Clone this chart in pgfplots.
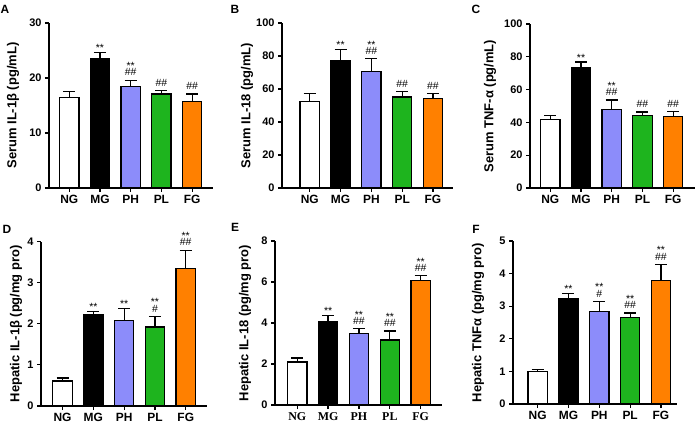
\documentclass[border=0pt]{standalone}
\usepackage{fontspec}
\setmainfont{Liberation Sans}
\newfontfamily\serifE{Liberation Serif}
\usepackage{pgfplots}
\pgfplotsset{compat=1.18}
\definecolor{cPH}{RGB}{140,140,250}
\definecolor{cPL}{RGB}{30,180,30}
\definecolor{cFG}{RGB}{255,128,0}
\pgfplotsset{
 panel/.style={
  scale only axis, anchor=south west, clip=false,
  axis x line*=bottom, axis y line*=left,
  axis line style={line width=1.2bp, -},
  ymin=0,
  xtick={0,...,4}, xticklabels={NG,MG,PH,PL,FG},
  tick align=outside, major tick length=4bp,
  tick style={line width=1.2bp, black},
  /pgf/number format/assume math mode=true,
  y tick label style={font=\fontsize{11}{12}\selectfont\bfseries},
  x tick label style={font=\fontsize{12}{14}\selectfont\bfseries},
  ylabel style={at={(axis description cs:0,0.5)}, anchor=center, font=\fontsize{13}{15}\selectfont\bfseries},
  error bars/y dir=plus, error bars/y explicit,
  error bars/error bar style={line width=1.2bp, black},
  error bars/error mark options={rotate=90, mark size=6bp, line width=1.2bp, black},
 },
 mybar/.style={ybar, bar shift=0pt, bar width=0.63, draw=black, line width=1.2bp},
}
\tikzset{ann/.style={anchor=base, inner sep=0pt, font=\fontsize{10.5}{12}\selectfont}}
\newcommand{\st}[2]{\node[ann, yshift=1bp] at (axis cs:#1,#2) {**};}
\newcommand{\hs}[3]{\node[ann, yshift=4.2bp] at (axis cs:#1,#2) {#3};}
\newcommand{\bt}[3]{\node[ann, yshift=4.2bp] at (axis cs:#1,#2) {#3};\node[ann, yshift=10.5bp] at (axis cs:#1,#2) {**};}
\newcommand{\lett}[3]{\node[font=\fontsize{12}{14}\selectfont\bfseries] at (#1bp,#2bp) {#3};}
\begin{document}
\begin{tikzpicture}
\useasboundingbox (0,0) rectangle (695bp,426bp);
% A
\begin{axis}[panel, at={(49bp,238bp)}, width=164bp, height=165bp,
  xmin=-0.66, xmax=4.68, ymax=30, ytick={0,10,20,30},
  ylabel={Serum IL-1β (pg/mL)}, ylabel style={yshift=36bp}]
\addplot[mybar, fill=white] coordinates {(0,16.5) +- (0,1.0)};
\addplot[mybar, fill=black] coordinates {(1,23.5) +- (0,1.2)};
\addplot[mybar, fill=cPH] coordinates {(2,18.5) +- (0,1.1)};
\addplot[mybar, fill=cPL] coordinates {(3,17.1) +- (0,0.6)};
\addplot[mybar, fill=cFG] coordinates {(4,15.7) +- (0,1.4)};
\st{1}{24.7}
\bt{2}{19.6}{\#\#}
\hs{3}{17.7}{\#\#}
\hs{4}{17.1}{\#\#}
\end{axis}
% B
\begin{axis}[panel, at={(282bp,238bp)}, width=171bp, height=165bp,
  xmin=-0.9, xmax=4.65, ymax=100, ytick={0,20,...,100},
  ylabel={Serum IL-18 (pg/mL)}, ylabel style={yshift=35bp}]
\addplot[mybar, fill=white] coordinates {(0,52.5) +- (0,4.7)};
\addplot[mybar, fill=black] coordinates {(1,77.4) +- (0,6.6)};
\addplot[mybar, fill=cPH] coordinates {(2,70.5) +- (0,7.9)};
\addplot[mybar, fill=cPL] coordinates {(3,55.2) +- (0,3.2)};
\addplot[mybar, fill=cFG] coordinates {(4,54.3) +- (0,3.1)};
\st{1}{84.0}
\bt{2}{78.4}{\#\#}
\hs{3}{58.4}{\#\#}
\hs{4}{57.4}{\#\#}
\end{axis}
% C
\begin{axis}[panel, at={(530bp,238bp)}, width=165bp, height=164bp,
  xmin=-0.66, xmax=4.71, ymax=100, ytick={0,20,...,100},
  ylabel={Serum TNF-α (pg/mL)}, ylabel style={yshift=40bp}]
\addplot[mybar, fill=white] coordinates {(0,42.0) +- (0,2.2)};
\addplot[mybar, fill=black] coordinates {(1,73.7) +- (0,3.1)};
\addplot[mybar, fill=cPH] coordinates {(2,47.7) +- (0,6.0)};
\addplot[mybar, fill=cPL] coordinates {(3,44.0) +- (0,2.3)};
\addplot[mybar, fill=cFG] coordinates {(4,43.6) +- (0,3.1)};
\st{1}{76.8}
\bt{2}{53.7}{\#\#}
\hs{3}{46.3}{\#\#}
\hs{4}{46.7}{\#\#}
\end{axis}
% D
\begin{axis}[panel, at={(41bp,20bp)}, width=166bp, height=164.5bp,
  xmin=-0.7, xmax=4.69, ymax=4, ytick={0,...,4},
  ylabel={Hepatic IL-1β (pg/mg pro)}, ylabel style={yshift=25bp}]
\addplot[mybar, fill=white] coordinates {(0,0.61) +- (0,0.07)};
\addplot[mybar, fill=black] coordinates {(1,2.22) +- (0,0.07)};
\addplot[mybar, fill=cPH] coordinates {(2,2.07) +- (0,0.30)};
\addplot[mybar, fill=cPL] coordinates {(3,1.92) +- (0,0.26)};
\addplot[mybar, fill=cFG] coordinates {(4,3.34) +- (0,0.45)};
\st{1}{2.29}
\st{2}{2.37}
\bt{3}{2.18}{\#}
\bt{4}{3.79}{\#\#}
\end{axis}
% E
\begin{axis}[panel, at={(275bp,21bp)}, width=167bp, height=164bp,
  xmin=-0.72, xmax=4.69, ymax=8, ytick={0,2,...,8},
  x tick label style={font=\fontsize{12}{14}\selectfont\serifE\bfseries},
  ylabel={Hepatic IL-18 (pg/mg pro)}, ylabel style={yshift=30bp}]
\addplot[mybar, fill=white] coordinates {(0,2.10) +- (0,0.19)};
\addplot[mybar, fill=black] coordinates {(1,4.08) +- (0,0.28)};
\addplot[mybar, fill=cPH] coordinates {(2,3.48) +- (0,0.24)};
\addplot[mybar, fill=cPL] coordinates {(3,3.17) +- (0,0.44)};
\addplot[mybar, fill=cFG] coordinates {(4,6.07) +- (0,0.24)};
\st{1}{4.36}
\bt{2}{3.72}{\#\#}
\bt{3}{3.61}{\#\#}
\bt{4}{6.31}{\#\#}
\end{axis}
% F
\begin{axis}[panel, at={(513bp,22bp)}, width=164bp, height=163bp,
  xmin=-0.8, xmax=4.52, ymax=5, ytick={0,...,5},
  ylabel={Hepatic TNFα (pg/mg pro)}, ylabel style={yshift=35bp}]
\addplot[mybar, fill=white] coordinates {(0,1.00) +- (0,0.07)};
\addplot[mybar, fill=black] coordinates {(1,3.22) +- (0,0.16)};
\addplot[mybar, fill=cPH] coordinates {(2,2.84) +- (0,0.31)};
\addplot[mybar, fill=cPL] coordinates {(3,2.65) +- (0,0.14)};
\addplot[mybar, fill=cFG] coordinates {(4,3.78) +- (0,0.50)};
\st{1}{3.38}
\bt{2}{3.15}{\#}
\bt{3}{2.79}{\#\#}
\bt{4}{4.28}{\#\#}
\end{axis}
\lett{5}{417}{A}
\lett{235}{417}{B}
\lett{476}{417}{C}
\lett{7}{197}{D}
\lett{235}{199}{E}
\lett{476}{197}{F}
\end{tikzpicture}
\end{document}
